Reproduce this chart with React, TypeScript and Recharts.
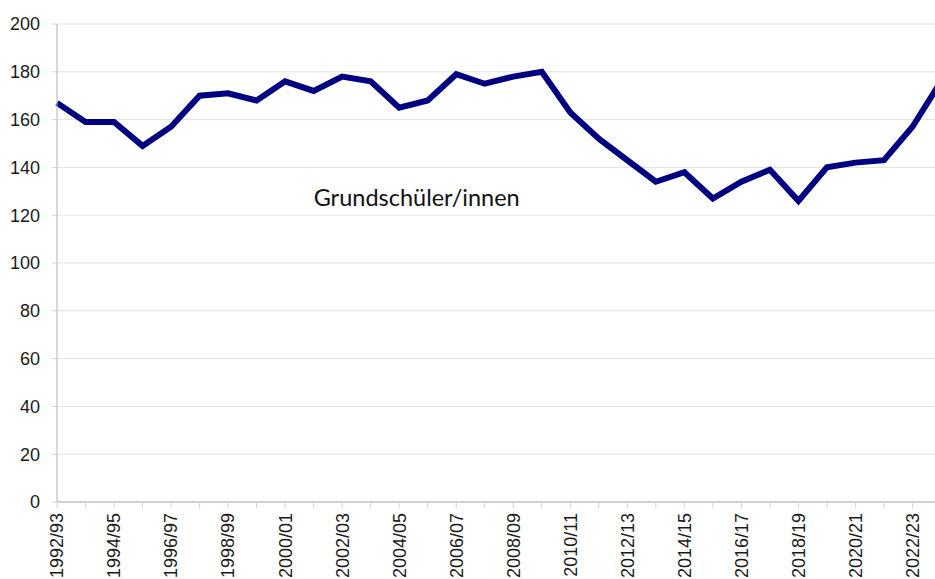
import { CartesianGrid, Line, LineChart, ReferenceDot, XAxis, YAxis } from 'recharts'

const years = [
  '1992/93', '1993/94', '1994/95', '1995/96', '1996/97', '1997/98', '1998/99', '1999/00',
  '2000/01', '2001/02', '2002/03', '2003/04', '2004/05', '2005/06', '2006/07', '2007/08',
  '2008/09', '2009/10', '2010/11', '2011/12', '2012/13', '2013/14', '2014/15', '2015/16',
  '2016/17', '2017/18', '2018/19', '2019/20', '2020/21', '2021/22', '2022/23', '2023/24',
]

const pupils = [
  167, 159, 159, 149, 157, 170, 171, 168,
  176, 172, 178, 176, 165, 168, 179, 175,
  178, 180, 163, 152, 143, 134, 138, 127,
  134, 139, 126, 140, 142, 143, 157, 176,
]

const yTicks = [0, 20, 40, 60, 80, 100, 120, 140, 160, 180, 200]

const seriesLabel = 'Grundschüler/innen'
const labelAt = { year: '2001/02', value: 124 }

const data = years.map((year, i) => ({ year, pupils: pupils[i] }))

const axisFont = '"Liberation Sans", Arial, sans-serif'

function YearTick({ x, y, payload, index }: any) {
  if (index % 2 !== 0) return null
  return (
    <text
      x={x}
      y={y}
      transform={`rotate(-90, ${x}, ${y})`}
      textAnchor="end"
      dy="0.355em"
      fontSize={18}
      fontFamily={axisFont}
      fill="#1a1a1a"
    >
      {payload.value}
    </text>
  )
}

function SeriesLabel({ viewBox }: any) {
  if (!viewBox) return null
  return (
    <text x={viewBox.x} y={viewBox.y} fontSize={23.5} fontFamily="Lato, sans-serif" fill="#111">
      {seriesLabel}
    </text>
  )
}

export default function App() {
  return (
    <div style={{ position: 'absolute', left: 0, top: 0, width: 935, height: 579, overflow: 'hidden', background: '#fff' }}>
      <LineChart width={946} height={579} data={data} margin={{ top: 24, right: 5, bottom: 0, left: 0 }}>
        <CartesianGrid vertical={false} stroke="#e2e2e2" />
        <XAxis
          dataKey="year"
          interval={0}
          tick={<YearTick />}
          tickSize={6}
          tickMargin={5}
          height={77}
          stroke="#b0b0b0"
          tickLine={{ stroke: '#d4d4d4' }}
        />
        <YAxis
          domain={[0, 200]}
          ticks={yTicks}
          width={57}
          tickSize={5}
          tickMargin={12}
          stroke="#b0b0b0"
          tickLine={{ stroke: '#d4d4d4' }}
          tick={{ fill: '#1a1a1a', fontSize: 18, fontFamily: axisFont }}
        />
        <Line
          type="linear"
          dataKey="pupils"
          stroke="#000080"
          strokeWidth={6}
          dot={false}
          isAnimationActive={false}
        />
        <ReferenceDot x={labelAt.year} y={labelAt.value} r={0} fill="none" stroke="none" label={<SeriesLabel />} />
      </LineChart>
    </div>
  )
}
